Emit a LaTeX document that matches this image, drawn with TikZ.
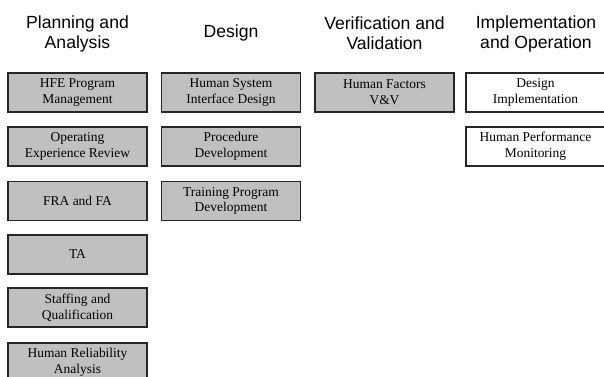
\documentclass[tikz,border=0pt]{standalone}
\usepackage{fontspec}
\setmainfont{Liberation Serif}
\newfontfamily\headfont{Liberation Sans}
\definecolor{boxgray}{RGB}{192,192,192}

\begin{document}
\begin{tikzpicture}[x=0.75pt,y=0.75pt,yscale=-1,xscale=1,
  phase/.style={align=center,inner sep=0.75pt,font=\headfont\fontsize{13.2}{15}\selectfont},
  task/.style={draw=black!85,line width=0.9pt,fill=boxgray,align=center,inner sep=0.75pt,
    minimum width=104.25pt,minimum height=29.25pt,font=\fontsize{10.1}{11.8}\selectfont},
  later/.style={task,fill=white}]
\useasboundingbox (0,0) rectangle (604,376);
\clip (0,0) rectangle (604,376);

% Text Node
\node [phase] (plan) at (77.5,33.5) {Planning and\\Analysis};
% Text Node
\node [phase] (design) at (231,32.5) {Design};
% Text Node
\node [phase] (vv) at (384.5,33.5) {Verification and\\Validation};
% Text Node
\node [phase] (impl) at (536,33.5) {Implementation\\and Operation};

%Flowchart: Process
\node [task] (hfe) at (77.5,92.5) {HFE Program\\Management};
%Flowchart: Process
\node [task] (oer) at (77.5,146.5) {Operating\\Experience Review};
%Flowchart: Process
\node [task] (fra) at (77.5,201) {FRA and FA};
%Flowchart: Process
\node [task] (ta) at (77.5,254.5) {TA};
%Flowchart: Process
\node [task] (staff) at (77.5,307.5) {Staffing and\\Qualification};
%Flowchart: Process
\node [task] (hra) at (77.5,362.5) {Human Reliability\\Analysis};

%Flowchart: Process
\node [task] (hsi) at (231,92.5) {Human System\\Interface Design};
%Flowchart: Process
\node [task] (proc) at (231,146.5) {Procedure\\Development};
%Flowchart: Process
\node [task] (train) at (231,201) {Training Program\\Development};

%Flowchart: Process
\node [task] (hfvv) at (384.5,92.5) {Human Factors\\V\&V};

%Flowchart: Process
\node [later] (dimpl) at (535.5,92.5) {Design\\Implementation};
%Flowchart: Process
\node [later] (hpm) at (535.5,146.5) {Human Performance\\Monitoring};

\end{tikzpicture}
\end{document}
